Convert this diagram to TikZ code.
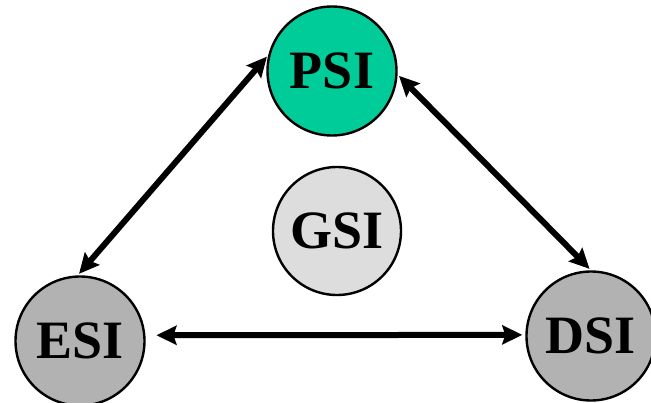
\documentclass[tikz,border=0pt]{standalone}
\usepackage{fontspec}
\setmainfont{Liberation Serif}
\usetikzlibrary{arrows.meta}
\definecolor{psigreen}{HTML}{00CC99}
\definecolor{gsigray}{HTML}{DDDDDD}
\definecolor{midgray}{HTML}{B2B2B2}
\begin{document}
\begin{tikzpicture}[x=1pt,y=-1pt,
  sys/.style={circle,draw=black,line width=2.4pt,minimum size=129pt,inner sep=0pt,font=\fontsize{54}{54}\selectfont\bfseries},
  link/.style={line width=6pt,{Stealth[length=20pt,width=19pt,inset=3pt]}-{Stealth[length=20pt,width=19pt,inset=3pt]}}]
\useasboundingbox (0,0) rectangle (651,402);
\node[sys,fill=psigreen] (psi) at (332,71) {PSI};
\node[sys,fill=gsigray,minimum size=128pt] (gsi) at (337,231) {GSI};
\node[sys,fill=midgray] (esi) at (80,341) {ESI};
\node[sys,fill=midgray] (dsi) at (591,336) {DSI};
\draw[link,shorten >=2pt,shorten <=2pt] (psi.166) -- (esi.92);
\draw[link,shorten >=2pt,shorten <=2pt] (psi.-3) -- (dsi.90);
\draw[link,shorten >=3pt,shorten <=11pt] (esi.5) -- (dsi.179);
\end{tikzpicture}
\end{document}
